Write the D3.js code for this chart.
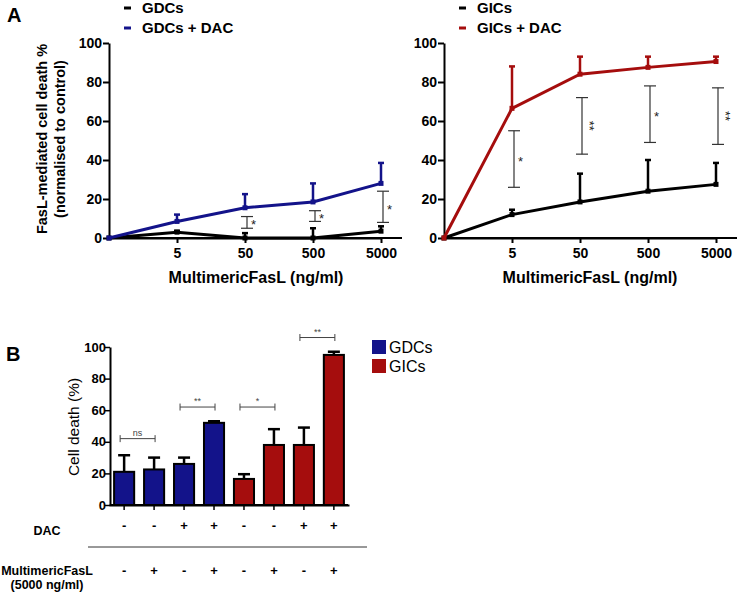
<!DOCTYPE html>
<html><head><meta charset="utf-8">
<script src="https://cdn.jsdelivr.net/npm/d3@7"></script>
<style>body{margin:0;background:#fff}text{font-family:"Liberation Sans",Arial,sans-serif}</style>
</head><body>
<svg id="c" width="739" height="592"></svg>
<script>
// ---------- DATA ----------
const doses = ["0", "5", "50", "500", "5000"];
const doseTicks = ["5", "50", "500", "5000"];
const yTicksA = [0, 20, 40, 60, 80, 100];

const gdcs = [0, 3, 0, 0, 3.5];
const gdcsErr = [0, 0.7, 2.5, 5, 2.5];
const gdcsDac = [0, 8.5, 15.5, 18.5, 28];
const gdcsDacErr = [0, 3.5, 7, 9.5, 10.5];

const gics = [0, 12, 18.5, 24, 27.5];
const gicsErr = [0, 2.5, 14.5, 16, 11];
const gicsDac = [0, 66.5, 84, 87.5, 90.5];
const gicsDacErr = [0, 21.5, 9, 5.5, 2.5];

const sigLeft = [
  {dose: "50", lo: 5, hi: 11, label: "*"},
  {dose: "500", lo: 8.5, hi: 14, label: "*"},
  {dose: "5000", lo: 8, hi: 24, label: "*"}
];
const sigRight = [
  {dose: "5", lo: 26, hi: 55, label: "*"},
  {dose: "50", lo: 43, hi: 72, label: "**"},
  {dose: "500", lo: 49, hi: 78, label: "*"},
  {dose: "5000", lo: 48, hi: 77, label: "**"}
];

const barGroups = ["GDCs", "GDCs", "GDCs", "GDCs", "GICs", "GICs", "GICs", "GICs"];
const barValues = [21, 22.5, 26, 52, 16.5, 38, 38, 95];
const barErr = [10.5, 7.5, 4, 1, 3, 10, 11, 2];
const dacRow = ["-", "-", "+", "+", "-", "-", "+", "+"];
const faslRow = ["-", "+", "-", "+", "-", "+", "-", "+"];
const sigBars = [
  {a: 0, b: 1, y: 42, label: "ns"},
  {a: 2, b: 3, y: 62, label: "**"},
  {a: 4, b: 5, y: 62, label: "*"},
  {a: 6, b: 7, y: 106, label: "**"}
];
const yTicksB = [0, 20, 40, 60, 80, 100];

const BLUE = "#13138a", RED = "#a50d0d";
const colorOf = {GDCs: BLUE, GICs: RED};
const FONT = "Liberation Sans, Arial, sans-serif";

// ---------- DRAW ----------
const svg = d3.select("#c");

svg.append("text").attr("x", 7).attr("y", 22).attr("font-size", 20).attr("font-weight", "bold").text("A");
svg.append("text").attr("x", 6).attr("y", 361).attr("font-size", 20).attr("font-weight", "bold").text("B");

function linePanel(x0, seriesA, seriesB, sigs, legendNames, legendColors, xTitleCx) {
  const g = svg.append("g");
  const x = d3.scalePoint().domain(doses).range([x0, x0 + 272]);
  const y = d3.scaleLinear().domain([0, 100]).range([238, 43]);

  const ya = g.append("g").attr("transform", `translate(${x0},0)`)
    .call(d3.axisLeft(y).tickValues(yTicksA).tickSize(6).tickSizeOuter(0));
  const xa = g.append("g").attr("transform", `translate(0,238)`)
    .call(d3.axisBottom(x).tickValues(doseTicks).tickSize(5).tickSizeOuter(0));
  g.append("line").attr("x1", x0).attr("x2", x0 + 293).attr("y1", 238).attr("y2", 238)
    .attr("stroke", "#000").attr("stroke-width", 2);
  [ya, xa].forEach(a => {
    a.select(".domain").attr("stroke-width", 2);
    a.selectAll(".tick line").attr("stroke-width", 2);
    a.selectAll("text").attr("font-size", 14).attr("font-weight", "bold")
      .attr("font-family", FONT).attr("fill", "#000");
  });
  ya.selectAll("text").attr("x", -7);
  xa.selectAll("text").attr("dy", "0.85em");

  sigs.forEach(s => {
    const cx = x(s.dose) + 2;
    const col = "#333";
    g.append("line").attr("x1", cx).attr("x2", cx).attr("y1", y(s.lo)).attr("y2", y(s.hi)).attr("stroke", col).attr("stroke-width", 1.2);
    [s.lo, s.hi].forEach(v => g.append("line").attr("x1", cx - 6).attr("x2", cx + 6).attr("y1", y(v)).attr("y2", y(v)).attr("stroke", col).attr("stroke-width", 1.2));
    const ty = y((s.lo + s.hi) / 2);
    if (s.label === "**") {
      g.append("text").attr("transform", `translate(${cx + 3},${ty}) rotate(90)`)
        .attr("text-anchor", "middle").attr("font-size", 13).attr("fill", "#222").text(s.label);
    } else {
      g.append("text").attr("x", cx + 4).attr("y", ty + 7).attr("font-size", 13).attr("fill", "#222").text(s.label);
    }
  });

  [seriesA, seriesB].forEach(s => {
    const pts = doses.map((d, i) => ({d, v: s.vals[i], e: s.err[i]}));
    pts.filter(p => p.e > 0).forEach(p => {
      g.append("line").attr("x1", x(p.d)).attr("x2", x(p.d)).attr("y1", y(p.v)).attr("y2", y(p.v + p.e))
        .attr("stroke", s.color).attr("stroke-width", 2.5);
      g.append("line").attr("x1", x(p.d) - 3).attr("x2", x(p.d) + 3).attr("y1", y(p.v + p.e)).attr("y2", y(p.v + p.e))
        .attr("stroke", s.color).attr("stroke-width", 2.5);
    });
    g.append("path").datum(pts)
      .attr("d", d3.line().x(p => x(p.d)).y(p => y(p.v)))
      .attr("fill", "none").attr("stroke", s.color).attr("stroke-width", 3);
    g.selectAll(null).data(pts).enter().append("rect")
      .attr("x", p => x(p.d) - 2.5).attr("y", p => y(p.v) - 2.5).attr("width", 5).attr("height", 5)
      .attr("fill", s.color);
  });

  legendNames.forEach((n, i) => {
    const ly = 8 + i * 20;
    g.append("line").attr("x1", x0 + 15).attr("x2", x0 + 22).attr("y1", ly).attr("y2", ly)
      .attr("stroke", legendColors[i]).attr("stroke-width", 3);
    g.append("text").attr("x", x0 + 33).attr("y", ly + 5).attr("font-size", 15).attr("font-weight", "bold").text(n);
  });

  g.append("text").attr("x", xTitleCx).attr("y", 283).attr("text-anchor", "middle")
    .attr("font-size", 16).attr("font-weight", "bold").text("MultimericFasL (ng/ml)");
}

linePanel(109, {vals: gdcs, err: gdcsErr, color: "#000"}, {vals: gdcsDac, err: gdcsDacErr, color: BLUE},
  sigLeft, ["GDCs", "GDCs + DAC"], ["#000", BLUE], 256);
linePanel(444, {vals: gics, err: gicsErr, color: "#000"}, {vals: gicsDac, err: gicsDacErr, color: RED},
  sigRight, ["GICs", "GICs + DAC"], ["#000", RED], 590);

const yt = svg.append("g").attr("transform", "translate(0,139) rotate(-90)");
yt.append("text").attr("x", 0).attr("y", 47).attr("text-anchor", "middle").attr("font-size", 14.5).attr("font-weight", "bold").text("FasL-mediated cell death %");
yt.append("text").attr("x", 0).attr("y", 65).attr("text-anchor", "middle").attr("font-size", 14.5).attr("font-weight", "bold").text("(normalised to control)");

// ---------- Panel B ----------
const gb = svg.append("g");
const idx = d3.range(barValues.length);
const xb = d3.scaleBand().domain(idx).range([109, 349]).paddingInner(0.33).paddingOuter(0.17);
const yb = d3.scaleLinear().domain([0, 100]).range([505, 347]);

idx.forEach(i => {
  const cx = xb(i) + xb.bandwidth() / 2;
  const top = yb(barValues[i] + barErr[i]);
  gb.append("line").attr("x1", cx).attr("x2", cx).attr("y1", yb(barValues[i])).attr("y2", top).attr("stroke", "#000").attr("stroke-width", 2.5);
  gb.append("line").attr("x1", cx - 6).attr("x2", cx + 6).attr("y1", top).attr("y2", top).attr("stroke", "#000").attr("stroke-width", 2.5);
});
gb.selectAll("rect.bar").data(idx).enter().append("rect").attr("class", "bar")
  .attr("x", i => xb(i)).attr("y", i => yb(barValues[i]))
  .attr("width", xb.bandwidth()).attr("height", i => 505 - yb(barValues[i]))
  .attr("fill", i => colorOf[barGroups[i]]).attr("stroke", "#000").attr("stroke-width", 2);

const yab = gb.append("g").attr("transform", "translate(110,0)")
  .call(d3.axisLeft(yb).tickValues(yTicksB).tickSize(5).tickSizeOuter(0));
const xab = gb.append("g").attr("transform", "translate(0,505)")
  .call(d3.axisBottom(xb).tickSize(5).tickSizeOuter(0).tickFormat(""));
gb.append("line").attr("x1", 110).attr("x2", 348).attr("y1", 505).attr("y2", 505).attr("stroke", "#000").attr("stroke-width", 2);
[yab, xab].forEach(a => {
  a.select(".domain").attr("stroke-width", 2);
  a.selectAll(".tick line").attr("stroke-width", 1.5);
  a.selectAll("text").attr("font-size", 13).attr("font-weight", "bold")
    .attr("font-family", FONT).attr("fill", "#000");
});
yab.selectAll("text").attr("x", -4);

gb.append("text").attr("transform", "translate(79,427) rotate(-90)").attr("text-anchor", "middle")
  .attr("font-size", 15.5).text("Cell death (%)");

sigBars.forEach(s => {
  const x1 = xb(s.a) + xb.bandwidth() / 2 - 4, x2 = xb(s.b) + xb.bandwidth() / 2 + 1;
  const yy = yb(s.y), col = "#444";
  gb.append("line").attr("x1", x1).attr("x2", x2).attr("y1", yy).attr("y2", yy).attr("stroke", col).attr("stroke-width", 1);
  [x1, x2].forEach(xx => gb.append("line").attr("x1", xx).attr("x2", xx).attr("y1", yy - 3.5).attr("y2", yy + 3.5).attr("stroke", col).attr("stroke-width", 1));
  gb.append("text").attr("x", (x1 + x2) / 2).attr("y", yy - 3).attr("text-anchor", "middle")
    .attr("font-size", 9).attr("fill", col).text(s.label);
});

["GDCs", "GICs"].forEach((n, i) => {
  const ly = 340 + i * 19;
  gb.append("rect").attr("x", 372).attr("y", ly).attr("width", 14).attr("height", 14).attr("fill", colorOf[n]);
  gb.append("text").attr("x", 389).attr("y", ly + 13).attr("font-size", 16).text(n);
});

gb.append("text").attr("x", 47).attr("y", 535).attr("text-anchor", "middle").attr("font-size", 12.5).attr("font-weight", "bold").text("DAC");
gb.append("line").attr("x1", 88).attr("x2", 367).attr("y1", 547).attr("y2", 547).attr("stroke", "#333").attr("stroke-width", 1);
gb.append("text").attr("x", 47).attr("y", 575).attr("text-anchor", "middle").attr("font-size", 12.5).attr("font-weight", "bold").text("MultimericFasL");
gb.append("text").attr("x", 47).attr("y", 589).attr("text-anchor", "middle").attr("font-size", 12.5).attr("font-weight", "bold").text("(5000 ng/ml)");
idx.forEach(i => {
  const cx = xb(i) + xb.bandwidth() / 2;
  gb.append("text").attr("x", cx).attr("y", 530).attr("text-anchor", "middle").attr("font-size", 13).attr("font-weight", "bold").text(dacRow[i]);
  gb.append("text").attr("x", cx).attr("y", 575).attr("text-anchor", "middle").attr("font-size", 13).attr("font-weight", "bold").text(faslRow[i]);
});
</script>
</body></html>
